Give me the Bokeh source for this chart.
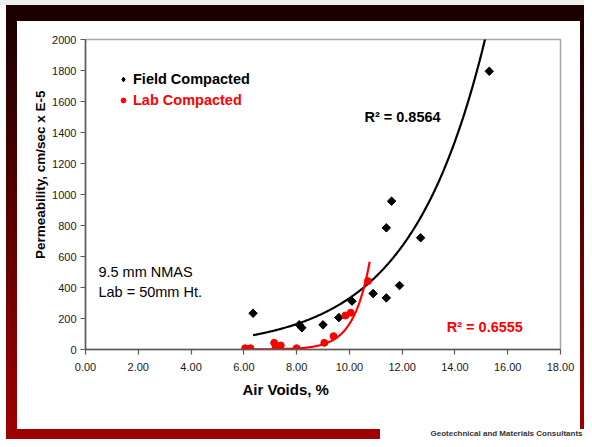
import numpy as np
from bokeh.plotting import figure
from bokeh.models import (Range1d, FixedTicker, NumeralTickFormatter, Label,
                          Legend, LegendItem, Title)
from bokeh.embed import file_html
from bokeh.resources import INLINE

# ---- data ----
field_voids = [6.35, 8.1, 8.2, 9.0, 9.6, 10.1, 10.9, 11.4, 11.4, 11.6, 11.9, 12.7, 15.3]
field_perm = [234, 160, 140, 159, 206, 312, 361, 785, 333, 957, 413, 721, 1795]
lab_voids = [6.05, 6.25, 7.15, 7.2, 7.4, 8.0, 9.05, 9.4, 9.85, 10.05, 10.7]
lab_perm = [8, 8, 43, 8, 26, 8, 43, 86, 219, 237, 441]
# exponential trendlines  y = a * exp(b * x)
field_trend_a, field_trend_b = 10.0, 0.35
lab_trend_a, lab_trend_b = 1.86e-5, 1.6
lab_trend_end = 10.77
field_r2_text = "R\u00b2 = 0.8564"
lab_r2_text = "R\u00b2 = 0.6555"
x_ticks = [0, 2, 4, 6, 8, 10, 12, 14, 16, 18]
y_ticks = [0, 200, 400, 600, 800, 1000, 1200, 1400, 1600, 1800, 2000]
series_names = ["Field Compacted", "Lab Compacted"]
note_lines = ["9.5 mm NMAS", "Lab = 50mm Ht."]
x_title = "Air Voids, %"
y_title = "Permeability, cm/sec x E-5"
footer = "Geotechnical and Materials Consultants"

FONT = "Liberation Sans"

p = figure(width=584, height=439, output_backend="svg", toolbar_location=None,
           x_range=Range1d(0, 18), y_range=Range1d(0, 2000),
           min_border_left=85, min_border_right=24, min_border_top=39, min_border_bottom=90)
p.background_fill_color = "white"
p.border_fill_color = None
p.outline_line_color = "#a6a6a6"
p.outline_line_width = 1.5
p.xgrid.visible = False
p.ygrid.visible = False

# slide frame drawn as page background behind the transparent canvas border
p.styles = {
    "background": ", ".join([
        "linear-gradient(#eeeeee,#eeeeee) 0px 0px / 100% 5px no-repeat",
        "linear-gradient(#ffffff,#ffffff) 0px 0px / 6px 100% no-repeat",
        "linear-gradient(#ffffff,#ffffff) 17px 21px / 563px 408px no-repeat",
        "linear-gradient(#ffffff,#ffffff) 380px 429px / 204px 10px no-repeat",
        "linear-gradient(to bottom, #1c0000 0px, #1c0000 21px, #a00000 439px)",
    ])
}

for ax in (p.xaxis[0], p.yaxis[0]):
    ax.axis_line_color = "#5a5a5a"
    ax.axis_line_width = 1.5
    ax.major_tick_line_color = "#5a5a5a"
    ax.major_tick_line_width = 1.2
    ax.major_tick_out = 5
    ax.major_tick_in = 0
    ax.minor_tick_line_color = None
    ax.major_label_text_font = FONT
    ax.major_label_text_font_size = "11px"
    ax.major_label_text_color = "#1a1a1a"
p.xaxis.ticker = FixedTicker(ticks=x_ticks)
p.xaxis.formatter = NumeralTickFormatter(format="0.00")
p.xaxis.major_label_standoff = 8
p.yaxis.ticker = FixedTicker(ticks=y_ticks)
p.yaxis.major_label_standoff = 4

# axis titles as positioned titles
p.add_layout(Title(text=x_title, align="left", offset=157, standoff=10,
                   text_font=FONT, text_font_size="15px", text_font_style="bold",
                   text_color="black"), "below")
p.add_layout(Title(text=" ", align="left", standoff=12,
                   text_font=FONT, text_font_size="8px"), "below")
p.add_layout(Title(text=footer, align="right", offset=-22, standoff=2,
                   text_font=FONT, text_font_size="8px", text_font_style="bold",
                   text_color="#333333"), "below")
p.add_layout(Title(text=y_title, align="right", offset=51, standoff=4,
                   text_font=FONT, text_font_size="13.5px", text_font_style="bold",
                   text_color="black"), "left")

# trendlines
fx = np.linspace(min(field_voids), max(field_voids), 300)
p.line(fx, field_trend_a * np.exp(field_trend_b * fx), line_color="black", line_width=2.2)
lx = np.linspace(min(lab_voids), lab_trend_end, 300)
p.line(lx, lab_trend_a * np.exp(lab_trend_b * lx), line_color="#ff0000", line_width=2.2)

# diamond key for the legend (hidden underneath the plotted diamonds)
r_field_key = p.scatter(field_voids, field_perm, marker="diamond", size=7,
                        fill_color="black", line_color="black")
p.scatter(field_voids, field_perm, marker="square", angle=np.pi / 4, size=6,
          fill_color="black", line_color="black")
r_lab = p.scatter(lab_voids, lab_perm, marker="circle", size=7,
                  fill_color="#ff0000", line_color="#ff0000")

def make_legend(name, rend, loc, color):
    lg = Legend(items=[LegendItem(label=name, renderers=[rend])], location=loc,
                background_fill_alpha=0, border_line_alpha=0, padding=0, margin=0,
                glyph_width=12, glyph_height=20, label_standoff=4, label_height=20,
                label_text_font=FONT, label_text_font_size="14.5px",
                label_text_font_style="bold", label_text_color=color)
    p.add_layout(lg)

make_legend(series_names[0], r_field_key, (32, 260), "black")
make_legend(series_names[1], r_lab, (32, 239), "#ff0000")

# annotations
p.add_layout(Label(x=10.57, y=1497, text=field_r2_text, text_font=FONT, text_font_size="14.5px",
                   text_font_style="bold", text_color="black", text_baseline="middle"))
p.add_layout(Label(x=13.69, y=142, text=lab_r2_text, text_font=FONT, text_font_size="14.5px",
                   text_font_style="bold", text_color="#ff0000", text_baseline="middle"))
p.add_layout(Label(x=0.49, y=497, text=note_lines[0], text_font=FONT, text_font_size="14.5px",
                   text_color="black", text_baseline="middle"))
p.add_layout(Label(x=0.49, y=374, text=note_lines[1], text_font=FONT, text_font_size="14.5px",
                   text_color="black", text_baseline="middle"))

open("out.html", "w").write(file_html(p, INLINE))
